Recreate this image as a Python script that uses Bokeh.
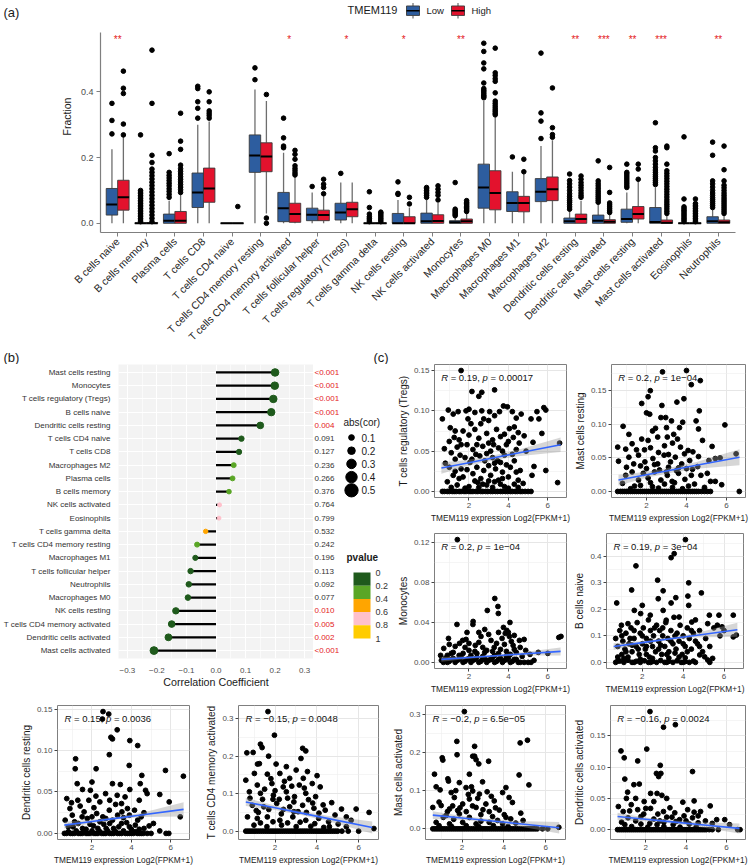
import math
from bokeh.plotting import figure
from bokeh.models import Range1d, FixedTicker
from bokeh.layouts import column, row
from bokeh.embed import file_html
from bokeh.resources import INLINE
from bokeh.core.properties import value

FONT = "Liberation Sans"

# ======================= (a) box plots =======================
cells = ["B cells naive", "B cells memory", "Plasma cells", "T cells CD8", "T cells CD4 naive",
         "T cells CD4 memory resting", "T cells CD4 memory activated", "T cells follicular helper",
         "T cells regulatory (Tregs)", "T cells gamma delta", "NK cells resting", "NK cells activated",
         "Monocytes", "Macrophages M0", "Macrophages M1", "Macrophages M2", "Dendritic cells resting",
         "Dendritic cells activated", "Mast cells resting", "Mast cells activated", "Eosinophils", "Neutrophils"]

low_q1 = [0.025, 0, 0, 0.048, 0, 0.155, 0.005, 0.008, 0.010, 0, 0, 0, 0, 0.046, 0.036, 0.066, 0, 0, 0.003, 0, 0, 0]
low_med = [0.057, 0, 0.008, 0.094, 0, 0.206, 0.046, 0.026, 0.033, 0, 0, 0.006, 0.003, 0.109, 0.062, 0.096, 0.006, 0.008, 0.013, 0.004, 0, 0.006]
low_q3 = [0.106, 0.001, 0.028, 0.153, 0, 0.269, 0.094, 0.046, 0.061, 0, 0.030, 0.031, 0.008, 0.180, 0.096, 0.136, 0.016, 0.025, 0.043, 0.048, 0, 0.020]
low_lo = [0] * 22
low_hi = [0.225, 0.002, 0.069, 0.300, 0, 0.407, 0.215, 0.094, 0.124, 0, 0.071, 0.071, 0.020, 0.372, 0.157, 0.235, 0.038, 0.059, 0.094, 0.110, 0, 0.043]

high_q1 = [0.040, 0, 0, 0.064, 0, 0.157, 0.003, 0.008, 0.020, 0, 0, 0, 0, 0.041, 0.035, 0.069, 0, 0, 0.013, 0, 0, 0]
high_med = [0.079, 0, 0.008, 0.106, 0, 0.203, 0.028, 0.025, 0.043, 0, 0, 0.007, 0.006, 0.092, 0.062, 0.104, 0.013, 0.005, 0.028, 0.002, 0, 0.003]
high_q3 = [0.131, 0.002, 0.036, 0.168, 0, 0.245, 0.061, 0.040, 0.064, 0.001, 0.020, 0.026, 0.013, 0.160, 0.082, 0.141, 0.028, 0.011, 0.051, 0.010, 0, 0.010]
high_lo = [0, 0, 0, 0, 0, 0.030, 0, 0, 0, 0, 0, 0, 0, 0, 0, 0, 0, 0, 0, 0, 0, 0]
high_hi = [0.263, 0.004, 0.089, 0.310, 0, 0.372, 0.142, 0.086, 0.124, 0.002, 0.048, 0.062, 0.033, 0.323, 0.150, 0.253, 0.069, 0.028, 0.129, 0.025, 0, 0.025]

low_out = [
    [0.272, 0.313, 0.365],
    [0.005, 0.010, 0.015, 0.020, 0.025, 0.030, 0.035, 0.040, 0.045, 0.050, 0.055, 0.060, 0.065, 0.070, 0.075, 0.080, 0.085, 0.090, 0.095, 0.100, 0.269],
    [0.079, 0.088, 0.097, 0.105, 0.114, 0.122, 0.130, 0.138, 0.146, 0.155, 0.212],
    [0.320, 0.350, 0.370, 0.410, 0.417],
    [],
    [0.437, 0.473],
    [0.230, 0.235, 0.260, 0.320],
    [0.112],
    [0.152],
    [0.005, 0.010, 0.015, 0.020, 0.028, 0.048, 0.096],
    [0.088, 0.091, 0.126],
    [0.079, 0.085, 0.090, 0.095, 0.100, 0.105, 0.109],
    [0.023, 0.027, 0.031, 0.035, 0.039, 0.043, 0.124],
    [0.382, 0.386, 0.390, 0.395, 0.400, 0.405, 0.410, 0.427, 0.470, 0.488, 0.523, 0.548],
    [0.202],
    [0.258, 0.311, 0.336, 0.518],
    [0.043, 0.050, 0.057, 0.064, 0.069, 0.075, 0.082, 0.090, 0.100, 0.110, 0.120, 0.130, 0.150],
    [0.064, 0.070, 0.076, 0.082, 0.088, 0.094, 0.100, 0.107, 0.114, 0.121, 0.129, 0.190],
    [0.109, 0.114, 0.120, 0.126, 0.132, 0.138, 0.144, 0.150, 0.155, 0.180],
    [0.118, 0.124, 0.130, 0.136, 0.142, 0.148, 0.155, 0.162, 0.170, 0.180, 0.190, 0.200, 0.220, 0.230, 0.306],
    [0.005, 0.010, 0.015, 0.020, 0.025, 0.030, 0.035, 0.040, 0.045, 0.050, 0.074, 0.263],
    [0.048, 0.054, 0.060, 0.066, 0.072, 0.078, 0.085, 0.092, 0.100, 0.110, 0.120, 0.129, 0.207, 0.247],
]
high_out = [
    [0.269, 0.302, 0.395, 0.411, 0.463],
    [0.005, 0.015, 0.025, 0.035, 0.045, 0.055, 0.065, 0.075, 0.085, 0.095, 0.105, 0.115, 0.125, 0.135, 0.145, 0.155, 0.165, 0.185, 0.207, 0.365, 0.527],
    [0.094, 0.102, 0.110, 0.118, 0.126, 0.134, 0.142, 0.150, 0.158, 0.166, 0.177, 0.225, 0.250, 0.335],
    [0.320, 0.328, 0.335, 0.342, 0.370, 0.400],
    [0.051],
    [0.000, 0.016, 0.392],
    [0.147, 0.153, 0.160, 0.167, 0.175, 0.195, 0.210, 0.222],
    [0.090, 0.109, 0.119, 0.134],
    [],
    [0.005, 0.010, 0.015, 0.020, 0.025, 0.030, 0.034],
    [0.059, 0.079],
    [0.071, 0.085, 0.094, 0.104, 0.114],
    [0.036, 0.040, 0.044, 0.048, 0.052, 0.056, 0.060, 0.064, 0.069],
    [0.330, 0.335, 0.341, 0.346, 0.352, 0.358, 0.365, 0.372, 0.397, 0.432, 0.440, 0.450, 0.458, 0.533],
    [0.157, 0.195],
    [0.262, 0.270, 0.291, 0.412],
    [0.079, 0.085, 0.092, 0.100, 0.108, 0.116, 0.124, 0.134, 0.144],
    [0.033, 0.038, 0.044, 0.050, 0.056, 0.062, 0.094, 0.170],
    [0.134, 0.165, 0.180],
    [0.030, 0.037, 0.044, 0.051, 0.058, 0.065, 0.072, 0.080, 0.088, 0.096, 0.104, 0.112, 0.120, 0.128, 0.136, 0.144, 0.152, 0.160, 0.180, 0.230, 0.235],
    [0.005, 0.010, 0.015, 0.020, 0.025, 0.030, 0.035, 0.040, 0.045, 0.050, 0.055, 0.060, 0.074],
    [0.030, 0.036, 0.042, 0.048, 0.054, 0.060, 0.066, 0.072, 0.078, 0.085, 0.092, 0.100, 0.108, 0.116, 0.129, 0.163, 0.235],
]
signif = ["**", "", "", "", "", "", "*", "", "*", "", "*", "", "**", "", "", "", "**", "***", "**", "***", "", "**"]
group_names = ["Low", "High"]

# ======================= (b) lollipop =======================
cor_cells = ["Mast cells resting", "Monocytes", "T cells regulatory (Tregs)", "B cells naive",
             "Dendritic cells resting", "T cells CD4 naive", "T cells CD8", "Macrophages M2", "Plasma cells",
             "B cells memory", "NK cells activated", "Eosinophils", "T cells gamma delta",
             "T cells CD4 memory resting", "Macrophages M1", "T cells follicular helper", "Neutrophils",
             "Macrophages M0", "NK cells resting", "T cells CD4 memory activated", "Dendritic cells activated",
             "Mast cells activated"]
cor_r = [0.200, 0.199, 0.194, 0.187, 0.150, 0.086, 0.078, 0.060, 0.056, 0.044, 0.012, 0.010, -0.035,
         -0.064, -0.070, -0.086, -0.092, -0.095, -0.136, -0.150, -0.161, -0.210]
cor_p = ["<0.001", "<0.001", "<0.001", "<0.001", "0.004", "0.091", "0.127", "0.236", "0.266", "0.376",
         "0.764", "0.799", "0.532", "0.242", "0.196", "0.113", "0.092", "0.077", "0.010", "0.005", "0.002",
         "<0.001"]
size_legend = [0.1, 0.2, 0.3, 0.4, 0.5]
p_breaks = [0, 0.2, 0.4, 0.6, 0.8, 1]
p_colors = ["#1f5a1c", "#5aa626", "#ffa500", "#ffc0cb", "#ffcc00"]

# ======================= (c) scatter panels =======================
tregs_pts = [
    (1.6, 0.150), (2.15, 0.124), (2.5, 0.118), (2.65, 0.123), (3.3, 0.126),
    (0.65, 0.090), (0.95, 0.101), (1.2, 0.096), (1.45, 0.099), (1.85, 0.100), (2.0, 0.102), (2.3, 0.098),
    (2.65, 0.100), (3.05, 0.099), (3.55, 0.099), (3.75, 0.106), (3.95, 0.105), (4.2, 0.099), (4.65, 0.096),
    (5.15, 0.090), (5.45, 0.099), (5.8, 0.104), (5.9, 0.101), (5.55, 0.090),
    (1.25, 0.067), (1.3, 0.075), (1.7, 0.075), (2.1, 0.084), (2.3, 0.077), (2.6, 0.084), (3.0, 0.088),
    (3.4, 0.077), (3.8, 0.071), (4.05, 0.078), (4.3, 0.080), (4.5, 0.073), (4.8, 0.069), (5.25, 0.061),
    (5.7, 0.072), (6.6, 0.060), (1.0, 0.062), (1.5, 0.064), (2.0, 0.070), (2.5, 0.066), (2.9, 0.072),
    (3.2, 0.064), (3.6, 0.068), (4.0, 0.062), (0.75, 0.053), (1.1, 0.048), (1.4, 0.055), (1.9, 0.058),
    (2.2, 0.052), (2.7, 0.056), (3.1, 0.050), (3.5, 0.054), (3.9, 0.058), (4.4, 0.052), (4.9, 0.050),
    (0.8, 0.035), (1.0, 0.030), (1.3, 0.040), (1.6, 0.028), (1.8, 0.042), (2.05, 0.036), (2.4, 0.030),
    (2.55, 0.044), (2.8, 0.038), (3.0, 0.032), (3.2, 0.042), (3.35, 0.028), (3.6, 0.036), (3.8, 0.045),
    (4.1, 0.030), (4.3, 0.038), (4.6, 0.026), (5.3, 0.031), (5.2, 0.020), (5.9, 0.026),
    (1.2, 0.020), (1.7, 0.018), (2.2, 0.022), (2.6, 0.016), (3.1, 0.020), (3.5, 0.014), (4.0, 0.018),
    (4.5, 0.014), (4.75, 0.010), (6.5, 0.011), (1.4, 0.008), (2.0, 0.006), (2.9, 0.008), (3.8, 0.006),
    (1.55, 0.045), (2.35, 0.046), (2.75, 0.026), (3.25, 0.058), (3.45, 0.038), (3.7, 0.024), (4.2, 0.046),
    (4.55, 0.060), (1.9, 0.027), (2.45, 0.011), (3.0, 0.013), (3.6, 0.009),
    (0.9, 0.012), (1.1, 0.005), (1.5, 0.016), (1.8, 0.004), (2.3, 0.013), (2.5, 0.005), (2.7, 0.009),
    (3.2, 0.005), (3.3, 0.012), (3.7, 0.016), (4.0, 0.004), (4.3, 0.009), (4.5, 0.005), (1.3, 0.025),
    (2.15, 0.040), (2.9, 0.047), (3.3, 0.035), (3.9, 0.033), (4.4, 0.024), (1.6, 0.058), (2.4, 0.058),
    (3.0, 0.060), (3.7, 0.050), (4.25, 0.067), (2.75, 0.090), (3.3, 0.094), (1.95, 0.090), (4.4, 0.091),
    (1.05, 0.079),
    (0.65, 0.0), (0.75, 0.0), (0.9, 0.0), (1.0, 0.0), (1.15, 0.0), (1.25, 0.0), (1.35, 0.0), (1.5, 0.0),
    (1.6, 0.0), (1.75, 0.0), (1.85, 0.0), (2.0, 0.0), (2.1, 0.0), (2.2, 0.0), (2.35, 0.0), (2.45, 0.0),
    (2.6, 0.0), (2.7, 0.0), (2.85, 0.0), (2.95, 0.0), (3.1, 0.0), (3.2, 0.0), (3.35, 0.0), (3.45, 0.0),
    (3.6, 0.0), (3.7, 0.0), (3.85, 0.0), (3.95, 0.0), (4.1, 0.0), (4.2, 0.0), (4.35, 0.0), (4.45, 0.0),
    (4.6, 0.0), (4.7, 0.0), (4.85, 0.0), (5.0, 0.0), (5.15, 0.0)]

mast_rest_pts = [
    (2.8, 0.178), (4.0, 0.180), (4.24, 0.159), (4.69, 0.165),
    (1.76, 0.131), (2.08, 0.141), (2.19, 0.150), (2.77, 0.128), (3.52, 0.133), (3.87, 0.138),
    (0.83, 0.097), (1.12, 0.085), (2.0, 0.117), (2.16, 0.115), (2.72, 0.110), (2.96, 0.110), (3.25, 0.105),
    (3.81, 0.103), (4.48, 0.105), (4.64, 0.120), (4.6, 0.093), (5.92, 0.099), (4.8, 0.076), (5.28, 0.067),
    (0.56, 0.066), (0.96, 0.063), (1.28, 0.071), (1.76, 0.078), (2.08, 0.076), (2.56, 0.081), (3.04, 0.081),
    (3.36, 0.085), (3.55, 0.078), (4.08, 0.061), (4.32, 0.059),
    (0.6, 0.045), (1.12, 0.051), (1.36, 0.041), (1.6, 0.054), (1.92, 0.044), (2.32, 0.049), (2.56, 0.041),
    (2.88, 0.054), (3.2, 0.044), (3.44, 0.051), (3.76, 0.041), (4.16, 0.046), (4.56, 0.037), (5.12, 0.046),
    (5.44, 0.049), (5.68, 0.050), (6.48, 0.056),
    (0.96, 0.024), (1.28, 0.029), (1.6, 0.017), (1.84, 0.027), (2.08, 0.020), (2.4, 0.029), (2.72, 0.017),
    (3.04, 0.024), (3.28, 0.015), (3.6, 0.027), (3.92, 0.018), (4.24, 0.024), (4.72, 0.024), (5.04, 0.027),
    (5.2, 0.015), (5.44, 0.015), (5.76, 0.010),
    (1.5, 0.062), (2.2, 0.065), (2.9, 0.068), (3.7, 0.066), (2.0, 0.034), (2.65, 0.032), (3.1, 0.036),
    (3.5, 0.031), (4.0, 0.034), (1.4, 0.008), (2.3, 0.007), (3.3, 0.006), (4.1, 0.008), (3.65, 0.095),
    (2.45, 0.094),
    (0.8, 0.012), (1.2, 0.004), (1.7, 0.009), (2.2, 0.013), (2.6, 0.005), (2.9, 0.011), (3.4, 0.013),
    (3.8, 0.004), (4.4, 0.011), (4.9, 0.006), (1.0, 0.036), (1.7, 0.038), (2.4, 0.040), (3.0, 0.029),
    (3.6, 0.035), (4.3, 0.033), (2.6, 0.058), (3.1, 0.055), (3.9, 0.056), (1.9, 0.062), (4.6, 0.052),
    (3.3, 0.072), (2.3, 0.090), (3.0, 0.095),
    (0.56, 0.0), (0.7, 0.0), (0.8, 0.0), (0.9, 0.0), (1.0, 0.0), (1.1, 0.0), (1.2, 0.0), (1.3, 0.0),
    (1.4, 0.0), (1.5, 0.0), (1.6, 0.0), (1.7, 0.0), (1.8, 0.0), (1.9, 0.0), (2.0, 0.0), (2.1, 0.0),
    (2.2, 0.0), (2.3, 0.0), (2.4, 0.0), (2.5, 0.0), (2.6, 0.0), (2.7, 0.0), (2.8, 0.0), (2.9, 0.0),
    (3.0, 0.0), (3.1, 0.0), (3.2, 0.0), (3.3, 0.0), (3.4, 0.0), (3.5, 0.0), (3.6, 0.0), (3.7, 0.0),
    (3.8, 0.0), (3.9, 0.0), (4.0, 0.0), (4.1, 0.0), (4.2, 0.0), (4.3, 0.0), (4.4, 0.0), (4.5, 0.0),
    (4.6, 0.0), (4.75, 0.0), (4.9, 0.0), (5.05, 0.0), (5.2, 0.0), (6.64, 0.0)]

mono_pts = [
    (1.41, 0.123), (3.31, 0.064), (3.47, 0.056), (3.49, 0.049), (2.93, 0.052),
    (1.39, 0.038), (2.21, 0.041), (2.2, 0.038), (4.08, 0.040), (3.92, 0.032), (3.84, 0.029), (4.0, 0.030),
    (3.68, 0.024), (4.05, 0.026), (2.8, 0.033), (2.61, 0.026), (1.68, 0.022), (1.85, 0.023), (0.96, 0.024),
    (4.56, 0.022), (4.8, 0.023), (6.56, 0.025), (6.67, 0.026),
    (0.72, 0.014), (3.12, 0.022), (1.52, 0.019), (2.32, 0.017), (3.28, 0.015), (4.24, 0.017), (1.2, 0.010),
    (2.0, 0.012), (2.8, 0.010), (3.6, 0.013), (4.4, 0.010), (4.88, 0.012), (5.52, 0.010), (0.56, 0.007),
    (1.0, 0.018), (1.8, 0.015), (2.5, 0.020), (3.0, 0.028), (3.4, 0.019), (3.75, 0.035), (4.15, 0.021),
    (2.4, 0.009), (3.9, 0.011), (4.6, 0.015), (5.1, 0.008), (6.0, 0.009),
    (1.1, 0.009), (1.7, 0.009), (2.3, 0.011), (2.9, 0.012), (3.5, 0.009), (4.1, 0.008), (4.7, 0.006),
    (1.3, 0.016), (2.0, 0.019), (2.7, 0.015), (3.2, 0.011), (3.8, 0.018), (4.3, 0.013), (2.5, 0.030),
    (3.5, 0.030), (1.9, 0.030), (4.3, 0.027),
    (0.6, 0.002), (0.7, 0.0), (0.8, 0.004), (0.9, 0.0), (1.0, 0.001), (1.1, 0.003), (1.2, 0.004),
    (1.3, 0.0), (1.4, 0.002), (1.5, 0.003), (1.6, 0.005), (1.7, 0.0), (1.8, 0.001), (1.9, 0.003),
    (2.0, 0.004), (2.1, 0.0), (2.2, 0.002), (2.3, 0.003), (2.4, 0.005), (2.5, 0.0), (2.6, 0.001),
    (2.7, 0.003), (2.8, 0.004), (2.9, 0.0), (3.0, 0.002), (3.1, 0.003), (3.2, 0.005), (3.3, 0.0),
    (3.4, 0.001), (3.5, 0.003), (3.6, 0.004), (3.7, 0.0), (3.8, 0.002), (3.9, 0.003), (4.0, 0.005),
    (4.1, 0.0), (4.2, 0.001), (4.3, 0.003), (4.4, 0.003), (4.5, 0.0), (4.6, 0.0), (4.8, 0.0), (5.0, 0.0),
    (5.15, 0.0), (5.3, 0.002), (0.9, 0.007), (1.5, 0.007), (2.1, 0.007), (2.7, 0.006), (3.3, 0.007),
    (3.9, 0.006)]

bnaive_pts = [
    (4.11, 0.463), (3.41, 0.395), (3.56, 0.410), (1.69, 0.364), (2.75, 0.310), (4.27, 0.300), (1.48, 0.273),
    (3.02, 0.270), (4.89, 0.262), (3.64, 0.244), (4.23, 0.250),
    (0.75, 0.224), (2.78, 0.240), (3.41, 0.224), (4.27, 0.215), (1.61, 0.196), (2.0, 0.215), (2.39, 0.178),
    (3.02, 0.196), (1.3, 0.146), (0.98, 0.140), (1.92, 0.184), (3.17, 0.159), (3.8, 0.171), (4.42, 0.152),
    (5.28, 0.178), (5.75, 0.178), (6.45, 0.178), (5.2, 0.146), (5.67, 0.140), (5.9, 0.134), (6.45, 0.096),
    (6.6, 0.103), (5.2, 0.009), (5.44, 0.015), (4.81, 0.028), (5.05, 0.021),
    (0.7, 0.09), (0.8, 0.06), (0.9, 0.12), (1.0, 0.03), (1.05, 0.08), (1.15, 0.05), (1.2, 0.11), (1.3, 0.02),
    (1.35, 0.07), (1.45, 0.13), (1.5, 0.04), (1.6, 0.09), (1.7, 0.06), (1.75, 0.15), (1.85, 0.03),
    (1.9, 0.11), (2.0, 0.07), (2.05, 0.13), (2.15, 0.05), (2.2, 0.09), (2.3, 0.16), (2.35, 0.02),
    (2.4, 0.12), (2.5, 0.06), (2.55, 0.10), (2.65, 0.04), (2.7, 0.14), (2.8, 0.08), (2.85, 0.12),
    (2.95, 0.03), (3.0, 0.10), (3.1, 0.06), (3.15, 0.15), (3.25, 0.09), (3.3, 0.04), (3.4, 0.12),
    (3.5, 0.07), (3.55, 0.17), (3.65, 0.05), (3.7, 0.11), (3.8, 0.08), (3.85, 0.14), (3.95, 0.03),
    (4.0, 0.10), (4.1, 0.06), (4.2, 0.13), (4.3, 0.09), (4.4, 0.05), (4.5, 0.11), (4.6, 0.16), (4.7, 0.07),
    (4.8, 0.12), (4.95, 0.04), (5.1, 0.09), (5.3, 0.06), (5.5, 0.13), (5.8, 0.10), (6.0, 0.12),
    (0.8, 0.02), (1.0, 0.10), (1.2, 0.04), (1.4, 0.09), (1.6, 0.12), (1.8, 0.05), (2.0, 0.10), (2.2, 0.03),
    (2.4, 0.08), (2.6, 0.13), (2.8, 0.05), (3.0, 0.13), (3.2, 0.03), (3.4, 0.08), (3.6, 0.10), (3.8, 0.02),
    (4.0, 0.07), (4.2, 0.04), (4.4, 0.12), (4.6, 0.08), (4.8, 0.06), (1.1, 0.015), (1.9, 0.012),
    (2.5, 0.015), (3.3, 0.016), (4.1, 0.017), (2.2, 0.06), (2.9, 0.065), (3.6, 0.035), (1.5, 0.065),
    (0.7, 0.0), (0.8, 0.005), (0.9, 0.005), (1.1, 0.0), (1.3, 0.008), (1.5, 0.0), (1.6, 0.0), (1.7, 0.004),
    (1.9, 0.0), (2.1, 0.006), (2.3, 0.0), (2.4, 0.0), (2.5, 0.003), (2.7, 0.0), (2.9, 0.007), (3.1, 0.0),
    (3.2, 0.0), (3.3, 0.004), (3.5, 0.0), (3.7, 0.006), (3.9, 0.0), (4.0, 0.0), (4.1, 0.003), (4.3, 0.0),
    (4.5, 0.005), (4.6, 0.0), (5.3, 0.0)]

dcrest_pts = [
    (2.56, 0.147), (2.85, 0.144), (2.53, 0.138), (3.28, 0.125), (2.96, 0.116), (3.04, 0.114), (3.92, 0.112),
    (4.32, 0.106), (1.17, 0.090), (2.88, 0.095), (1.15, 0.078), (2.21, 0.078), (3.89, 0.082), (5.73, 0.076),
    (1.25, 0.060), (2.0, 0.062), (3.04, 0.060), (3.44, 0.059), (4.53, 0.070), (4.45, 0.060), (6.64, 0.069),
    (1.52, 0.053), (1.92, 0.052), (2.69, 0.048), (3.92, 0.053), (4.72, 0.052), (4.8, 0.048), (5.44, 0.047),
    (0.72, 0.042), (0.96, 0.037), (1.28, 0.040), (1.84, 0.040), (2.4, 0.038), (3.68, 0.044), (5.92, 0.038),
    (3.28, 0.046), (0.88, 0.030), (1.6, 0.026), (2.24, 0.024), (2.88, 0.028), (3.52, 0.026), (4.16, 0.028),
    (4.64, 0.025), (6.48, 0.020), (0.64, 0.016), (1.12, 0.014), (1.76, 0.018), (2.4, 0.014), (3.04, 0.016),
    (3.76, 0.013), (4.32, 0.016), (5.12, 0.012), (5.44, 0.003), (5.76, 0.0), (1.04, 0.008), (1.52, 0.006),
    (2.08, 0.009), (2.72, 0.006), (3.36, 0.008), (4.0, 0.005), (4.64, 0.006),
    (1.4, 0.033), (2.1, 0.031), (2.55, 0.020), (3.2, 0.035), (3.9, 0.022), (4.4, 0.040), (1.9, 0.011),
    (2.9, 0.012), (3.6, 0.019), (4.2, 0.010),
    (0.8, 0.008), (1.3, 0.012), (1.7, 0.005), (2.3, 0.006), (2.6, 0.011), (3.1, 0.006), (3.5, 0.012),
    (3.9, 0.008), (4.4, 0.005), (4.9, 0.009), (1.0, 0.022), (1.5, 0.020), (2.0, 0.020), (2.7, 0.018),
    (3.3, 0.022), (3.8, 0.030), (4.5, 0.020), (2.2, 0.045), (2.9, 0.040), (3.5, 0.036),
    (0.6, 0.0), (0.7, 0.0), (0.8, 0.002), (0.9, 0.0), (1.0, 0.0), (1.1, 0.0), (1.2, 0.003), (1.3, 0.0),
    (1.4, 0.0), (1.5, 0.0), (1.6, 0.002), (1.7, 0.0), (1.8, 0.0), (1.9, 0.0), (2.0, 0.003), (2.1, 0.0),
    (2.2, 0.0), (2.3, 0.0), (2.4, 0.002), (2.5, 0.0), (2.6, 0.0), (2.7, 0.0), (2.8, 0.003), (2.9, 0.0),
    (3.0, 0.0), (3.1, 0.0), (3.2, 0.002), (3.3, 0.0), (3.4, 0.0), (3.5, 0.0), (3.6, 0.003), (3.7, 0.0),
    (3.8, 0.0), (3.9, 0.0), (4.0, 0.0), (4.1, 0.0), (4.2, 0.002), (4.3, 0.0), (4.4, 0.0), (4.5, 0.0),
    (4.6, 0.0), (4.8, 0.0), (5.0, 0.0), (5.9, 0.0)]

cd4act_pts = [
    (1.66, 0.319), (1.97, 0.256), (1.30, 0.232), (1.38, 0.223), (0.65, 0.209), (0.95, 0.210), (3.32, 0.221),
    (3.47, 0.214), (3.24, 0.194), (1.69, 0.200), (1.16, 0.179), (1.25, 0.180), (2.05, 0.179), (2.54, 0.172),
    (3.01, 0.163), (3.55, 0.159), (4.01, 0.148), (1.01, 0.154), (1.63, 0.152), (2.23, 0.154), (2.70, 0.141),
    (0.60, 0.136), (1.15, 0.123), (1.85, 0.127), (2.39, 0.118), (3.16, 0.123), (3.78, 0.127), (4.16, 0.118),
    (0.77, 0.105), (1.30, 0.101), (1.92, 0.096), (2.54, 0.105), (2.93, 0.092), (3.47, 0.101), (3.94, 0.092),
    (4.71, 0.076), (5.18, 0.059), (5.88, 0.059), (6.50, 0.050), (0.91, 0.069), (1.46, 0.065), (2.08, 0.074),
    (2.70, 0.065), (3.32, 0.069), (3.86, 0.061), (4.40, 0.056), (4.87, 0.043), (5.41, 0.038), (5.64, 0.029),
    (0.68, 0.038), (1.15, 0.034), (1.63, 0.038), (2.23, 0.029), (2.85, 0.038), (3.47, 0.029), (4.09, 0.034),
    (4.56, 0.025), (5.02, 0.019), (5.41, 0.012), (6.73, 0.007), (0.99, 0.016), (1.61, 0.012), (2.31, 0.016),
    (3.01, 0.012), (3.71, 0.013), (4.33, 0.010),
    (1.9, 0.085), (2.3, 0.046), (2.6, 0.088), (3.1, 0.052), (3.6, 0.084), (4.3, 0.070), (1.2, 0.050),
    (0.8, 0.088), (2.0, 0.108), (2.45, 0.133), (3.35, 0.141), (1.5, 0.112),
    (1.3, 0.022), (1.9, 0.025), (2.6, 0.022), (3.2, 0.024), (3.9, 0.020), (4.6, 0.012), (1.1, 0.055),
    (1.7, 0.058), (2.4, 0.058), (2.9, 0.052), (3.5, 0.050), (4.1, 0.048), (1.4, 0.085), (2.2, 0.085),
    (2.9, 0.078), (3.8, 0.075), (1.8, 0.140), (2.8, 0.120), (3.4, 0.115),
    (0.6, 0.0), (0.7, 0.0), (0.8, 0.0), (0.9, 0.0), (1.0, 0.0), (1.1, 0.0), (1.2, 0.0), (1.3, 0.0),
    (1.4, 0.0), (1.5, 0.0), (1.6, 0.0), (1.7, 0.0), (1.8, 0.0), (1.9, 0.0), (2.0, 0.0), (2.1, 0.0),
    (2.2, 0.0), (2.3, 0.0), (2.4, 0.0), (2.5, 0.0), (2.6, 0.0), (2.7, 0.0), (2.8, 0.0), (2.9, 0.0),
    (3.0, 0.0), (3.1, 0.0), (3.2, 0.0), (3.3, 0.0), (3.4, 0.0), (3.5, 0.0), (3.6, 0.0), (3.7, 0.0),
    (3.8, 0.0), (3.9, 0.0), (4.0, 0.0), (4.1, 0.0), (4.2, 0.0), (4.3, 0.0), (4.4, 0.0), (4.5, 0.0),
    (4.6, 0.0), (4.7, 0.0), (4.8, 0.0), (4.9, 0.0), (5.0, 0.0), (5.2, 0.0), (5.5, 0.0), (6.0, 0.0)]

mastact_pts = [
    (2.11, 0.307), (1.75, 0.229), (2.60, 0.216), (4.78, 0.225), (5.13, 0.232), (1.76, 0.194), (2.51, 0.190),
    (2.67, 0.181), (3.27, 0.177), (1.05, 0.186), (1.08, 0.180), (0.68, 0.143), (1.32, 0.131), (1.35, 0.125),
    (2.35, 0.143), (4.73, 0.141), (5.20, 0.115), (0.76, 0.110), (0.95, 0.102), (1.48, 0.095), (1.87, 0.121),
    (2.19, 0.108), (2.51, 0.099), (2.83, 0.091), (2.98, 0.123), (3.94, 0.095), (4.10, 0.108), (4.25, 0.082),
    (4.41, 0.069), (1.63, 0.082), (2.03, 0.065), (2.35, 0.078), (3.14, 0.065), (3.54, 0.073), (0.60, 0.056),
    (1.00, 0.061), (1.40, 0.052), (1.79, 0.048), (2.67, 0.056), (3.78, 0.049), (4.81, 0.041), (1.24, 0.035),
    (1.87, 0.039), (2.35, 0.030), (2.90, 0.037), (3.46, 0.032), (4.02, 0.037), (4.33, 0.026), (4.92, 0.022),
    (0.76, 0.017), (1.40, 0.013), (2.03, 0.017), (2.67, 0.013), (3.30, 0.017), (3.94, 0.013), (4.57, 0.015),
    (6.63, 0.004),
    (1.1, 0.030), (1.6, 0.025), (2.2, 0.045), (2.9, 0.020), (3.3, 0.045), (3.7, 0.022), (4.1, 0.030),
    (0.9, 0.070), (1.55, 0.060), (2.75, 0.080), (3.2, 0.097), (2.45, 0.110),
    (0.9, 0.008), (1.5, 0.006), (2.2, 0.008), (2.8, 0.006), (3.5, 0.008), (4.2, 0.006), (1.3, 0.045),
    (1.9, 0.055), (2.5, 0.060), (3.0, 0.050), (3.6, 0.055), (1.7, 0.100), (2.3, 0.090), (3.4, 0.085),
    (2.6, 0.190), (2.8, 0.170),
    (0.6, 0.0), (0.7, 0.0), (0.8, 0.0), (0.9, 0.0), (1.0, 0.0), (1.1, 0.0), (1.2, 0.0), (1.3, 0.0),
    (1.4, 0.0), (1.5, 0.0), (1.6, 0.0), (1.7, 0.0), (1.8, 0.0), (1.9, 0.0), (2.0, 0.0), (2.1, 0.0),
    (2.2, 0.0), (2.3, 0.0), (2.4, 0.0), (2.5, 0.0), (2.6, 0.0), (2.7, 0.0), (2.8, 0.0), (2.9, 0.0),
    (3.0, 0.0), (3.1, 0.0), (3.2, 0.0), (3.3, 0.0), (3.4, 0.0), (3.5, 0.0), (3.6, 0.0), (3.7, 0.0),
    (3.8, 0.0), (3.9, 0.0), (4.0, 0.0), (4.1, 0.0), (4.2, 0.0), (4.3, 0.0), (4.4, 0.0), (4.5, 0.0),
    (4.6, 0.0), (4.7, 0.0), (4.8, 0.0), (4.9, 0.0), (5.0, 0.0), (5.1, 0.0), (5.2, 0.0), (5.3, 0.0),
    (5.4, 0.0), (5.5, 0.0), (5.6, 0.0), (5.85, 0.0), (6.1, 0.0)]

dcact_pts = [
    (2.21, 0.189), (2.88, 0.164), (3.47, 0.168), (0.77, 0.126), (0.93, 0.115), (2.05, 0.129), (1.60, 0.110),
    (0.96, 0.081), (2.72, 0.103), (2.75, 0.090), (2.53, 0.090), (2.64, 0.085), (4.32, 0.093), (1.41, 0.072),
    (1.68, 0.073), (2.24, 0.058), (2.56, 0.058), (1.04, 0.050), (0.64, 0.037), (1.28, 0.040), (1.92, 0.045),
    (3.04, 0.050), (3.84, 0.044), (4.40, 0.046), (5.20, 0.038), (0.88, 0.029), (1.60, 0.032), (2.24, 0.034),
    (2.88, 0.029), (3.44, 0.027), (4.08, 0.032), (4.72, 0.029), (1.12, 0.019), (1.76, 0.021), (2.40, 0.017),
    (3.04, 0.020), (3.68, 0.016), (4.32, 0.019), (4.96, 0.014), (5.52, 0.016), (5.92, 0.016), (6.16, 0.008),
    (0.96, 0.008), (1.76, 0.009), (2.56, 0.008), (3.36, 0.008), (4.16, 0.009), (6.56, 0.0), (6.68, 0.0),
    (1.3, 0.005), (2.1, 0.004), (2.9, 0.005), (3.7, 0.004), (4.5, 0.004), (1.9, 0.025), (2.7, 0.014),
    (3.2, 0.035), (4.6, 0.022), (5.3, 0.010),
    (0.8, 0.012), (1.5, 0.014), (2.2, 0.010), (2.9, 0.012), (3.5, 0.013), (4.0, 0.014), (4.6, 0.011),
    (1.2, 0.030), (2.0, 0.034), (2.6, 0.025), (3.3, 0.020), (3.9, 0.022), (4.4, 0.028), (1.5, 0.050),
    (2.4, 0.045), (2.8, 0.055), (1.1, 0.060),
    (0.6, 0.0), (0.7, 0.0), (0.8, 0.0), (0.9, 0.0), (1.0, 0.0), (1.1, 0.0), (1.2, 0.0), (1.3, 0.0),
    (1.4, 0.0), (1.5, 0.0), (1.6, 0.0), (1.7, 0.0), (1.8, 0.0), (1.9, 0.0), (2.0, 0.0), (2.1, 0.0),
    (2.2, 0.0), (2.3, 0.0), (2.4, 0.0), (2.5, 0.0), (2.6, 0.0), (2.7, 0.0), (2.8, 0.0), (2.9, 0.0),
    (3.0, 0.0), (3.1, 0.0), (3.2, 0.0), (3.3, 0.0), (3.4, 0.0), (3.5, 0.0), (3.6, 0.0), (3.7, 0.0),
    (3.8, 0.0), (3.9, 0.0), (4.0, 0.0), (4.1, 0.0), (4.2, 0.0), (4.3, 0.0), (4.4, 0.0), (4.5, 0.0),
    (4.6, 0.0), (4.7, 0.0), (4.8, 0.0), (4.9, 0.0), (5.0, 0.0), (5.15, 0.0), (5.3, 0.0), (5.6, 0.0)]

# regression fits: value at x=0.6 and x=6.65, CI half widths at BAND_X
BAND_X = [0.6, 2.0, 3.2, 4.5, 6.65]
fits = {
    "tregs": (0.029, 0.058), "mast_rest": (0.017, 0.051), "mono": (0.003, 0.011), "bnaive": (0.060, 0.123),
    "dcrest": (0.010, 0.029), "cd4act": (0.078, 0.010), "mastact": (0.036, 0.003), "dcact": (0.021, 0.002)}
cis = {
    "tregs": [0.007, 0.0035, 0.003, 0.004, 0.009], "mast_rest": [0.008, 0.0045, 0.004, 0.005, 0.012],
    "mono": [0.0025, 0.0012, 0.001, 0.0014, 0.004], "bnaive": [0.012, 0.006, 0.005, 0.007, 0.026],
    "dcrest": [0.004, 0.002, 0.0018, 0.0025, 0.0085], "cd4act": [0.011, 0.006, 0.005, 0.007, 0.016],
    "mastact": [0.010, 0.005, 0.0045, 0.006, 0.015], "dcact": [0.006, 0.003, 0.0027, 0.0035, 0.008]}
stats_r = {"tregs": "0.19", "mast_rest": "0.2", "mono": "0.2", "bnaive": "0.19", "dcrest": "0.15",
           "cd4act": "\u22120.15", "mastact": "\u22120.2", "dcact": "\u22120.16"}
stats_p = {"tregs": "0.00017", "mast_rest": "1e\u221204", "mono": "1e\u221204", "bnaive": "3e\u221204",
           "dcrest": "0.0036", "cd4act": "0.0048", "mastact": "6.5e\u221205", "dcact": "0.0024"}
ylabels = {"tregs": "T cells regulatory (Tregs)", "mast_rest": "Mast cells resting", "mono": "Monocytes",
           "bnaive": "B cells naive", "dcrest": "Dendritic cells resting",
           "cd4act": "T cells CD4 memory activated", "mastact": "Mast cells activated",
           "dcact": "Dendritic cells activated"}
yticks = {"tregs": [0, 0.05, 0.10, 0.15], "mast_rest": [0, 0.05, 0.10, 0.15], "mono": [0, 0.04, 0.08, 0.12],
          "bnaive": [0, 0.1, 0.2, 0.3, 0.4], "dcrest": [0, 0.05, 0.10, 0.15], "cd4act": [0, 0.1, 0.2, 0.3],
          "mastact": [0, 0.1, 0.2, 0.3], "dcact": [0, 0.05, 0.10, 0.15]}
ydec = {"tregs": 2, "mast_rest": 2, "mono": 2, "bnaive": 1, "dcrest": 2, "cd4act": 1, "mastact": 1, "dcact": 2}
xticks = [2, 4, 6]
XLABEL = "TMEM119 expression Log2(FPKM+1)"

# ======================= helpers =======================
BLUE, RED = "#2d5d9f", "#e3122d"


def style_text_axis(ax, size, color="#4d4d4d"):
    ax.major_label_text_font = FONT
    ax.major_label_text_font_size = size
    ax.major_label_text_color = color
    ax.axis_label_text_font = FONT
    ax.axis_label_text_font_style = "normal"


def text_strip(w, h, items, bottom=0):
    """Empty figure used only to hold panel tags; x/y in pixels from the frame's top-left."""
    fh = h - bottom
    f = figure(width=w, height=h, x_range=Range1d(0, w), y_range=Range1d(fh, 0), output_backend="svg",
               toolbar_location=None, x_axis_type=None, y_axis_type=None,
               min_border_left=0, min_border_right=0, min_border_top=0, min_border_bottom=bottom)
    f.outline_line_color = None
    f.grid.visible = False
    for x, y, t in items:
        f.text(x=[x], y=[y], text=[t], text_font=value(FONT), text_font_size="13px", text_baseline="middle",
               text_align="left", text_color="#1a1a1a")
    return f


# ---------------- figure (a) ----------------
TAGW = 30
AW, AH = 751 - TAGW, 350
A_L, A_R, A_T, A_B = 100 - TAGW, 16, 0, 117
a_fw, a_fh = AW - A_L - A_R, AH - A_T - A_B
a_x0, a_x1 = 0.4, 22.6
a_ppu = 330.0
a_y0 = -0.028
a_y1 = a_y0 + a_fh / a_ppu


def ax_px(px):  # page x -> data
    return a_x0 + (px - 100) * (a_x1 - a_x0) / a_fw


def ay_px(py):  # page y -> data
    return a_y1 - (py - A_T) / a_ppu


pa = figure(width=AW, height=AH, x_range=Range1d(a_x0, a_x1), y_range=Range1d(a_y0, a_y1),
            output_backend="svg", toolbar_location=None,
            min_border_left=A_L, min_border_right=A_R, min_border_top=A_T, min_border_bottom=A_B)
pa.outline_line_color = None
pa.grid.visible = False
pos = list(range(1, len(cells) + 1))
for q1, med, q3, lo, hi, outs, col, off in [
        (low_q1, low_med, low_q3, low_lo, low_hi, low_out, BLUE, -0.2),
        (high_q1, high_med, high_q3, high_lo, high_hi, high_out, RED, 0.2)]:
    xc = [i + off for i in pos]
    pa.segment(x0=xc, y0=q3, x1=xc, y1=hi, line_color="#6e6e6e", line_width=1.3)
    pa.segment(x0=xc, y0=q1, x1=xc, y1=lo, line_color="#6e6e6e", line_width=1.3)
    pa.quad(left=[x - 0.2 for x in xc], right=[x + 0.2 for x in xc], bottom=q1, top=q3,
            fill_color=col, line_color="#3a3a3a", line_width=0.9)
    pa.segment(x0=[x - 0.2 for x in xc], y0=med, x1=[x + 0.2 for x in xc], y1=med,
               line_color="black", line_width=2)
    ox = [xc[k] for k, o in enumerate(outs) for _ in o]
    oy = [v for o in outs for v in o]
    pa.scatter(ox, oy, size=4.6, color="black")

sx = [pos[k] for k, s in enumerate(signif) if s]
st = [s for s in signif if s]
pa.text(x=sx, y=[ay_px(39.5)] * len(sx), text=st, text_align="center", text_baseline="alphabetic",
        text_font=value(FONT), text_font_size="10px", text_color="#e41a1c")

# legend (drawn in the top area of the frame)
pa.text(x=[ax_px(347)], y=[ay_px(10)], text=["TMEM119"], text_font=value(FONT), text_font_size="11px",
        text_baseline="middle", text_align="left", text_color="#1a1a1a")
for kx, col, name, tx in [(406, BLUE, group_names[0], 426), (451, RED, group_names[1], 471)]:
    cx = ax_px(kx + 6.5)
    pa.segment(x0=[cx, cx], y0=[ay_px(2.5), ay_px(15)], x1=[cx, cx], y1=[ay_px(5.5), ay_px(18)],
               line_color="#6e6e6e", line_width=1.2)
    pa.quad(left=[ax_px(kx)], right=[ax_px(kx + 13)], bottom=[ay_px(15)], top=[ay_px(5.5)],
            fill_color=col, line_color="#3a3a3a", line_width=0.9)
    pa.segment(x0=[ax_px(kx)], y0=[ay_px(10.3)], x1=[ax_px(kx + 13)], y1=[ay_px(10.3)],
               line_color="black", line_width=1.6)
    pa.text(x=[ax_px(tx)], y=[ay_px(10)], text=[name], text_font=value(FONT), text_font_size="9.5px",
            text_baseline="middle", text_align="left", text_color="#1a1a1a")

pa.xaxis.ticker = FixedTicker(ticks=pos)
pa.xaxis.major_label_overrides = {i: c for i, c in zip(pos, cells)}
pa.xaxis.major_label_orientation = math.pi / 4
style_text_axis(pa.xaxis[0], "10.5px", "#262626")
pa.xaxis.axis_line_color = "#7f7f7f"
pa.xaxis.axis_line_width = 1.2
pa.xaxis.major_tick_line_color = "#7f7f7f"
pa.xaxis.major_tick_out = 4
pa.xaxis.major_tick_in = 0
pa.xaxis.minor_tick_line_color = None
pa.xaxis.major_label_standoff = 3
pa.yaxis.ticker = FixedTicker(ticks=[0, 0.2, 0.4])
pa.yaxis.major_label_overrides = {0: "0.0", 0.2: "0.2", 0.4: "0.4"}
pa.yaxis.bounds = (a_y0, 0.581)
style_text_axis(pa.yaxis[0], "9px", "#4d4d4d")
pa.yaxis.axis_label = "Fraction"
pa.yaxis.axis_label_text_font_size = "10.5px"
pa.yaxis.axis_label_text_color = "#1a1a1a"
pa.yaxis.axis_label_standoff = 5
pa.yaxis.axis_line_color = "#7f7f7f"
pa.yaxis.axis_line_width = 1.2
pa.yaxis.major_tick_line_color = "#7f7f7f"
pa.yaxis.major_tick_out = 4
pa.yaxis.major_tick_in = 0
pa.yaxis.minor_tick_line_color = None
pa.yaxis.major_label_standoff = 3
tag_a = text_strip(TAGW, AH, [(3, 12, "(a)")], bottom=A_B)

# ---------------- strip with (b) and (c) tags ----------------
STRIP_H = 14
tag_bc = text_strip(751, STRIP_H, [(3, 7, "(b)"), (373, 7, "(c)")])

# ---------------- figure (b) ----------------
B_TOP_PAGE = 350 + STRIP_H
BH = 696 - B_TOP_PAGE
B_L, b_fh = 112, 294
B_B = BH - b_fh
b_x0, b_x1 = -0.33, 0.33
b_ppx = 304.5
b_fw = int(round((b_x1 - b_x0) * b_ppx))
BW = B_L + b_fw
b_y0, b_y1 = 0.4, 22.6
b_ppy = b_fh / (b_y1 - b_y0)
b_yr = Range1d(b_y0, b_y1)

pb = figure(width=BW, height=BH, x_range=Range1d(b_x0, b_x1), y_range=b_yr,
            output_backend="svg", toolbar_location=None,
            min_border_left=B_L, min_border_right=0, min_border_top=0, min_border_bottom=B_B)
pb.outline_line_color = None
pb.background_fill_color = "#f3f3f3"
nrow = len(cor_cells)
rows_y = [nrow - k for k in range(nrow)]
majx = [-0.3, -0.2, -0.1, 0.0, 0.1, 0.2, 0.3]
minx = [-0.25, -0.15, -0.05, 0.05, 0.15, 0.25]
xtk_b = FixedTicker(ticks=majx, minor_ticks=minx)
ytk_b = FixedTicker(ticks=rows_y)
pb.xaxis.ticker = xtk_b
pb.xgrid.ticker = xtk_b
pb.yaxis.ticker = ytk_b
pb.ygrid.ticker = ytk_b
for g in (pb.xgrid[0], pb.ygrid[0]):
    g.grid_line_color = "white"
    g.grid_line_width = 1.1
pb.xgrid.minor_grid_line_color = "white"
pb.xgrid.minor_grid_line_width = 0.6

pnum = [0.001 if s.startswith("<") else float(s) for s in cor_p]


def pcolor(v):
    for k in range(5):
        if v <= p_breaks[k + 1]:
            return p_colors[k]
    return p_colors[-1]


def dsize(a):
    return 3.8 + 19.0 * a


pb.segment(x0=[0] * nrow, y0=rows_y, x1=cor_r, y1=rows_y, line_color="black", line_width=2.2)
pb.scatter(cor_r, rows_y, size=[dsize(abs(r)) for r in cor_r], color=[pcolor(v) for v in pnum])

pb.yaxis.major_label_overrides = {y: c for y, c in zip(rows_y, cor_cells)}
style_text_axis(pb.yaxis[0], "8px", "#333333")
pb.yaxis.axis_line_color = None
pb.yaxis.major_tick_line_color = None
pb.yaxis.minor_tick_line_color = None
pb.yaxis.major_label_standoff = 2
pb.xaxis.major_label_overrides = {v: ("%.1f" % v).replace("-", "\u2212") for v in majx}
style_text_axis(pb.xaxis[0], "8px", "#4d4d4d")
pb.xaxis.axis_line_color = None
pb.xaxis.major_tick_line_color = None
pb.xaxis.minor_tick_line_color = None
pb.xaxis.major_label_standoff = 3
pb.xaxis.axis_label = "Correlation Coefficient"
pb.xaxis.axis_label_text_font_size = "10.7px"
pb.xaxis.axis_label_text_color = "#1a1a1a"
pb.xaxis.axis_label_standoff = 0

# side figure: p-value texts and legends (shares the row scale of (b))
SW = 751 - 357 - BW
pside = figure(width=SW, height=BH, x_range=Range1d(0, SW), y_range=b_yr,
               output_backend="svg", toolbar_location=None, x_axis_type=None, y_axis_type=None,
               min_border_left=0, min_border_right=0, min_border_top=0, min_border_bottom=B_B)
pside.outline_line_color = None
pside.grid.visible = False
SX0 = BW  # page x of side figure


def sx_px(px):
    return px - SX0


def sy_px(py):
    return b_y1 - (py - B_TOP_PAGE) / b_ppy


pside.text(x=[1] * nrow, y=rows_y, text=cor_p, text_font=value(FONT), text_font_size="8px",
           text_baseline="middle", text_align="left",
           text_color=["#e41a1c" if v < 0.05 else "#333333" for v in pnum])
pside.text(x=[sx_px(343)], y=[sy_px(422)], text=["abs(cor)"], text_font=value(FONT), text_font_size="10px",
           text_baseline="middle", text_align="left", text_color="#1a1a1a")
ly = [sy_px(437 + 13.2 * k) for k in range(len(size_legend))]
pside.scatter([sx_px(351)] * len(size_legend), ly, size=[dsize(a) for a in size_legend], color="black")
pside.text(x=[sx_px(361)] * len(size_legend), y=ly, text=["%.1f" % a for a in size_legend],
           text_font=value(FONT), text_font_size="10px", text_baseline="middle", text_align="left",
           text_color="#1a1a1a")
pside.text(x=[sx_px(346)], y=[sy_px(557)], text=["pvalue"], text_font=value(FONT), text_font_size="10px",
           text_font_style="bold", text_baseline="middle", text_align="left", text_color="#1a1a1a")
pside.quad(left=[sx_px(353)] * 5, right=[sx_px(370)] * 5,
           top=[sy_px(572 + 13.2 * k) for k in range(5)],
           bottom=[sy_px(572 + 13.2 * (k + 1)) for k in range(5)],
           fill_color=p_colors, line_color=None)
pside.text(x=[sx_px(375)] * 6, y=[sy_px(572 + 13.2 * k) for k in range(6)],
           text=["%g" % b for b in p_breaks], text_font=value(FONT), text_font_size="9px",
           text_baseline="middle", text_align="left", text_color="#333333")

# ---------------- scatter panels ----------------
XLIM = (0.25, 6.95)
CW = {'0': 556, '1': 556, '2': 556, '3': 556, '4': 556, '5': 556, '6': 556, '7': 556, '8': 556, '9': 556,
      ' ': 278, '=': 584, ',': 278, '.': 278, 'e': 556, '\u2212': 584, 'R': 722, 'p': 556}


def twidth(s, fs):
    return sum(CW.get(ch, 556) for ch in s) * fs / 1000.0


def scatter_panel(key, pts, w, h, ml, mr, mt, mb):
    xs = [q[0] for q in pts]
    ys = [q[1] for q in pts]
    f0, f1 = fits[key]
    line_y = [f0 + (x - BAND_X[0]) * (f1 - f0) / (BAND_X[-1] - BAND_X[0]) for x in BAND_X]
    lo = [a - c for a, c in zip(line_y, cis[key])]
    hi = [a + c for a, c in zip(line_y, cis[key])]
    ymin, ymax = min(min(ys), min(lo)), max(max(ys), max(hi))
    pad = 0.05 * (ymax - ymin)
    y0, y1 = ymin - pad, ymax + pad
    fw, fh = w - ml - mr, h - mt - mb
    p = figure(width=w, height=h, x_range=Range1d(*XLIM), y_range=Range1d(y0, y1),
               output_backend="svg", toolbar_location=None,
               min_border_left=ml, min_border_right=mr, min_border_top=mt, min_border_bottom=mb)
    p.outline_line_color = "#7f7f7f"
    p.outline_line_width = 1
    yt = yticks[key]
    step = yt[1] - yt[0]
    yminor = [t + step / 2 for t in [yt[0] - step] + yt if y0 < t + step / 2 < y1]
    xtk = FixedTicker(ticks=xticks, minor_ticks=[1, 3, 5])
    ytk = FixedTicker(ticks=yt, minor_ticks=yminor)
    p.xaxis.ticker = xtk
    p.yaxis.ticker = ytk
    p.xgrid.ticker = xtk
    p.ygrid.ticker = ytk
    for g in (p.xgrid[0], p.ygrid[0]):
        g.grid_line_color = "#e6e6e6"
        g.grid_line_width = 1
        g.minor_grid_line_color = "#eeeeee"
        g.minor_grid_line_width = 0.6
    p.yaxis.major_label_overrides = {t: ("%." + str(ydec[key]) + "f") % t for t in yt}
    for ax in (p.xaxis[0], p.yaxis[0]):
        style_text_axis(ax, "8px", "#4d4d4d")
        ax.axis_line_color = None
        ax.major_tick_line_color = "#444444"
        ax.major_tick_out = 3
        ax.major_tick_in = 0
        ax.minor_tick_line_color = None
        ax.major_label_standoff = 1
        ax.axis_label_standoff = 2
        ax.axis_label_text_color = "#1a1a1a"
    p.xaxis.axis_label = XLABEL
    p.xaxis.axis_label_text_font_size = "8.3px"
    p.yaxis.axis_label = ylabels[key]
    p.yaxis.axis_label_text_font_size = "10px"

    p.scatter(xs, ys, size=4.8, color="black")
    p.varea(x=BAND_X, y1=lo, y2=hi, fill_color="#999999", fill_alpha=0.4)
    p.line(BAND_X, line_y, line_color="#3366ff", line_width=1.6)

    fs = 9.5
    xa = XLIM[0] + 7 * (XLIM[1] - XLIM[0]) / fw
    ya = y1 - 13 * (y1 - y0) / fh
    pieces = [("R", "italic"), ("= " + stats_r[key] + ",", "normal"), ("p", "italic"),
              ("= " + stats_p[key], "normal")]
    off = 0.0
    for txt, style in pieces:
        p.text(x=[xa], y=[ya], text=[txt], x_offset=off, text_font=value(FONT), text_font_size="%gpx" % fs,
               text_font_style=style, text_baseline="middle", text_align="left", text_color="#111111")
        off += twidth(txt, fs) + twidth(" ", fs)
    return p


s1 = scatter_panel("tregs", tregs_pts, 177, 161, 33, 5, 0, 28)
s2 = scatter_panel("mast_rest", mast_rest_pts, 180, 161, 35, 6, 0, 28)
s3 = scatter_panel("mono", mono_pts, 177, 171, 33, 5, 8, 28)
s4 = scatter_panel("bnaive", bnaive_pts, 180, 171, 33, 8, 8, 28)
s5 = scatter_panel("dcrest", dcrest_pts, 200, 171, 57, 11, 9, 28)
s6 = scatter_panel("cd4act", cd4act_pts, 185, 171, 38, 7, 9, 28)
s7 = scatter_panel("mastact", mastact_pts, 185, 171, 40, 5, 9, 28)
s8 = scatter_panel("dcact", dcact_pts, 181, 171, 36, 6, 9, 28)

p = column(row(tag_a, pa), tag_bc,
           row(pb, pside, column(row(s1, s2), row(s3, s4))),
           row(s5, s6, s7, s8))
open("out.html", "w").write(file_html(p, INLINE))
